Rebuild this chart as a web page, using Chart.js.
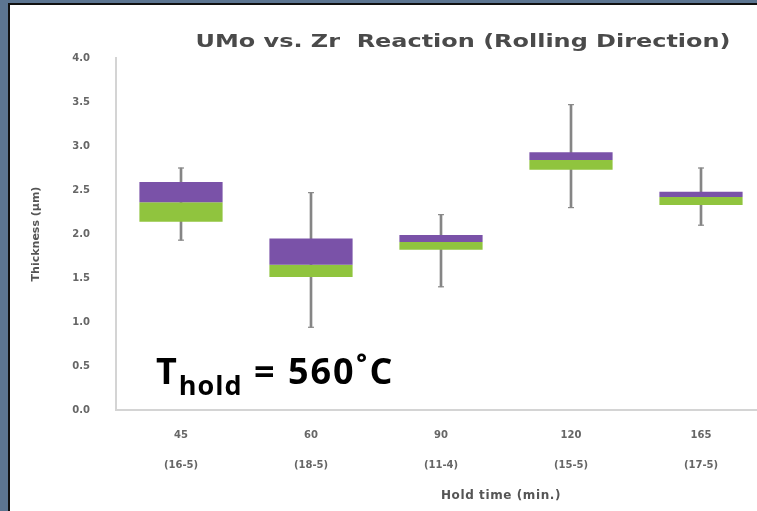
<!DOCTYPE html>
<html>
<head>
<meta charset="utf-8">
<script src="https://cdn.jsdelivr.net/npm/chart.js@4.4.1/dist/chart.umd.min.js"></script>
<style>
  html, body { margin:0; padding:0; width:757px; height:511px; overflow:hidden; background:#5c7591; }
  #panel { position:absolute; left:8px; top:3px; width:800px; height:520px; background:#fff;
           border-left:2px solid #111; border-top:2px solid #111; }
  #wrap { position:absolute; left:1px; top:0; width:755px; height:506px; }
  #note { position:absolute; left:146px; top:341px; font-family:'Open Sans',sans-serif; font-weight:700;
          font-size:36px; color:#000; white-space:nowrap; letter-spacing:2px; }
  #note sub { font-size:27px; vertical-align:-0.42em; line-height:0; letter-spacing:1px; }
</style>
</head>
<body>
<div id="panel">
  <div id="wrap"><canvas id="c"></canvas></div>
  <div id="note">T<sub>hold</sub> = 560˚C</div>
</div>
<script>
"use strict";
const holdTimes = ['45', '60', '90', '120', '165'];
const sampleIds = ['(16-5)', '(18-5)', '(11-4)', '(15-5)', '(17-5)'];
const whiskerLow  = [1.93, 0.94, 1.40, 2.30, 2.10];
const quart1      = [2.14, 1.51, 1.82, 2.73, 2.33];
const medians     = [2.36, 1.65, 1.91, 2.84, 2.42];
const quart3      = [2.59, 1.95, 1.99, 2.93, 2.48];
const whiskerHigh = [2.75, 2.47, 2.22, 3.47, 2.75];
const yTicks = [0, 0.5, 1, 1.5, 2, 2.5, 3, 3.5, 4];

const chartTitle = 'UMo vs. Zr  Reaction (Rolling Direction)';
const xTitle = 'Hold time (min.)';

const labels = holdTimes.map((h, i) => [h, sampleIds[i]]);
const pair = (a, b) => a.map((v, i) => [v, b[i]]);

// titre + légende x + petits traits aux bouts des moustaches
const extras = {
  id: 'extras',
  afterDatasetsDraw(chart) {
    const { ctx, scales } = chart;
    ctx.save();
    ctx.strokeStyle = '#888'; ctx.lineWidth = 1.2;
    holdTimes.forEach((_, i) => {
      const x = scales.x.getPixelForValue(i);
      [whiskerLow[i], whiskerHigh[i]].forEach(v => {
        const y = scales.y.getPixelForValue(v);
        ctx.beginPath(); ctx.moveTo(x - 3, y); ctx.lineTo(x + 3, y); ctx.stroke();
      });
    });
    ctx.restore();
  },
  afterDraw(chart) {
    const ctx = chart.ctx;
    ctx.save();
    ctx.fillStyle = '#4a4a4a';
    ctx.textAlign = 'center'; ctx.textBaseline = 'alphabetic';
    ctx.font = '700 17px "DejaVu Sans", sans-serif';
    const w = ctx.measureText(chartTitle).width;
    const sx = 535 / w;
    ctx.translate(452, 42);
    ctx.scale(sx, 1);
    ctx.fillText(chartTitle, 0, 0);
    ctx.restore();
    ctx.save();
    ctx.fillStyle = '#555';
    ctx.textAlign = 'center';
    ctx.font = '700 12px "DejaVu Sans", sans-serif';
    ctx.letterSpacing = '0.6px';
    ctx.fillText(xTitle, 490, 494);
    ctx.restore();
  }
};

new Chart(document.getElementById('c'), {
  type: 'bar',
  data: {
    labels,
    datasets: [
      { label: 'upper', data: pair(medians, quart3), backgroundColor: '#7a52a8', grouped: false,
        categoryPercentage: 1, barPercentage: 0.64, order: 1 },
      { label: 'lower', data: pair(quart1, medians), backgroundColor: '#90c43e', grouped: false,
        categoryPercentage: 1, barPercentage: 0.64, order: 1 },
      { label: 'range', data: pair(whiskerLow, whiskerHigh), backgroundColor: '#858585', grouped: false,
        barThickness: 2, order: 2 }
    ]
  },
  options: {
    responsive: true,
    maintainAspectRatio: false,
    animation: false,
    layout: { padding: { top: 53, left: 0, right: 0, bottom: 0 } },
    plugins: { legend: { display: false }, tooltip: { enabled: false }, title: { display: false } },
    scales: {
      x: {
        grid: { display: false, drawTicks: false },
        border: { color: '#d4d4d4', width: 2 },
        ticks: { color: '#666', padding: 10, font: { family: 'DejaVu Sans', size: 10, weight: '700', lineHeight: 3 } },
        afterFit: s => { s.height = 101; }
      },
      y: {
        min: 0, max: 4,
        afterBuildTicks: s => { s.ticks = yTicks.map(v => ({ value: v })); },
        grid: { display: false, drawTicks: false },
        border: { color: '#d4d4d4', width: 2 },
        ticks: { color: '#666', padding: 26, callback: v => v.toFixed(1),
                 font: { family: 'DejaVu Sans', size: 10, weight: '700' } },
        title: { display: true, text: 'Thickness (μm)', color: '#555', padding: { top: 19, bottom: 0 },
                 font: { family: 'DejaVu Sans', size: 11, weight: '700' } },
        afterFit: s => { s.width = 105; }
      }
    }
  },
  plugins: [extras]
});
</script>
</body>
</html>
